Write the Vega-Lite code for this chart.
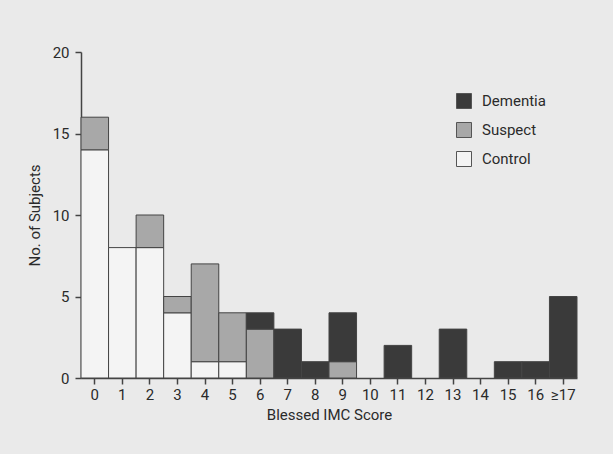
{
  "$schema": "https://vega.github.io/schema/vega-lite/v6.json",
  "width": 496,
  "height": 326,
  "autosize": "none",
  "padding": {"left": 81, "top": 52, "right": 36, "bottom": 76},
  "background": "#eaeaea",
  "config": {
    "view": {"stroke": null},
    "font": "Roboto",
    "axis": {
      "labelFont": "Roboto",
      "titleFont": "Roboto",
      "labelFontSize": 15,
      "titleFontSize": 15,
      "titleFontWeight": "normal",
      "labelColor": "#2a2a2a",
      "titleColor": "#2a2a2a",
      "domainColor": "#444",
      "tickColor": "#444",
      "domainWidth": 1.5,
      "tickWidth": 1.5,
      "grid": false
    },
    "legend": {
      "labelFont": "Roboto",
      "labelFontSize": 15,
      "labelColor": "#2a2a2a"
    }
  },
  "data": {
    "values": [
      {"score": "0", "group": "Control", "n": 14},
      {"score": "0", "group": "Suspect", "n": 2},
      {"score": "1", "group": "Control", "n": 8},
      {"score": "2", "group": "Control", "n": 8},
      {"score": "2", "group": "Suspect", "n": 2},
      {"score": "3", "group": "Control", "n": 4},
      {"score": "3", "group": "Suspect", "n": 1},
      {"score": "4", "group": "Control", "n": 1},
      {"score": "4", "group": "Suspect", "n": 6},
      {"score": "5", "group": "Control", "n": 1},
      {"score": "5", "group": "Suspect", "n": 3},
      {"score": "6", "group": "Suspect", "n": 3},
      {"score": "6", "group": "Dementia", "n": 1},
      {"score": "7", "group": "Dementia", "n": 3},
      {"score": "8", "group": "Dementia", "n": 1},
      {"score": "9", "group": "Suspect", "n": 1},
      {"score": "9", "group": "Dementia", "n": 3},
      {"score": "11", "group": "Dementia", "n": 2},
      {"score": "13", "group": "Dementia", "n": 3},
      {"score": "15", "group": "Dementia", "n": 1},
      {"score": "16", "group": "Dementia", "n": 1},
      {"score": "≥17", "group": "Dementia", "n": 5}
    ]
  },
  "transform": [
    {"calculate": "datum.group === 'Control' ? 0 : datum.group === 'Suspect' ? 1 : 2", "as": "stackOrder"}
  ],
  "mark": {"type": "bar", "stroke": "#444", "strokeWidth": 1},
  "encoding": {
    "x": {
      "field": "score",
      "type": "ordinal",
      "scale": {
        "domain": ["0","1","2","3","4","5","6","7","8","9","10","11","12","13","14","15","16","≥17"],
        "paddingInner": 0,
        "paddingOuter": 0
      },
      "axis": {"title": "Blessed IMC Score", "labelAngle": 0, "labelPadding": 3, "tickSize": 6, "titlePadding": 5}
    },
    "y": {
      "field": "n",
      "type": "quantitative",
      "stack": "zero",
      "scale": {"domain": [0, 20]},
      "axis": {"title": "No. of Subjects", "values": [0, 5, 10, 15, 20], "tickSize": 6, "labelPadding": 6, "titlePadding": 10}
    },
    "color": {
      "field": "group",
      "type": "nominal",
      "scale": {
        "domain": ["Dementia", "Suspect", "Control"],
        "range": ["#3a3a3a", "#a8a8a8", "#f4f4f4"]
      },
      "legend": {
        "title": null,
        "orient": "none",
        "legendX": 375,
        "legendY": 41,
        "symbolType": "square",
        "symbolSize": 225,
        "symbolStrokeColor": "#555",
        "symbolStrokeWidth": 1,
        "rowPadding": 9,
        "labelOffset": 10
      }
    },
    "order": {"field": "stackOrder", "type": "quantitative"}
  }
}
